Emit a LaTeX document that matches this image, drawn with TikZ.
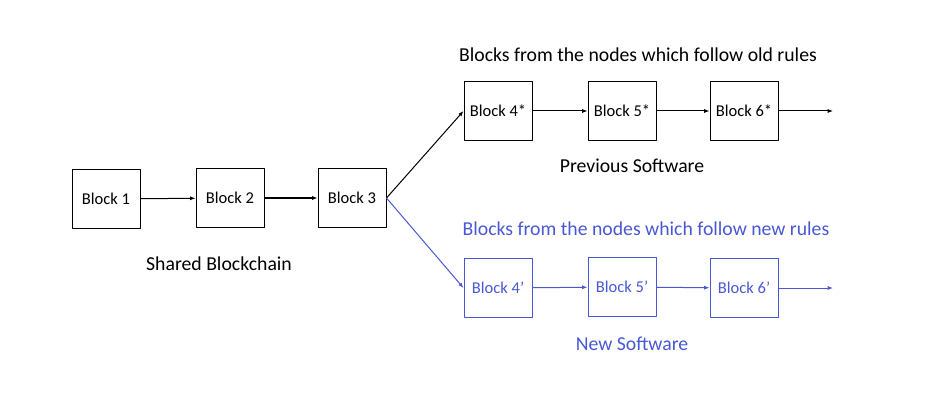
\documentclass[tikz,border=0pt]{standalone}
\usepackage{fontspec}
\setmainfont{Carlito}
\usetikzlibrary{arrows.meta,positioning}
\definecolor{newblue}{RGB}{72,88,212}

\begin{document}
\begin{tikzpicture}[x=0.75pt, y=-0.75pt, >={Latex[length=4pt,width=3pt]}, line cap=round, line join=round,
    blockbox/.style={draw, line width=0.75pt, minimum width=51pt, minimum height=44pt, inner sep=0pt, font=\fontsize{12.4}{14}\selectfont},
    link/.style={->, line width=0.75pt},
    caption/.style={font=\fontsize{14.8}{17}\selectfont}]
    % fix the page to the reference size
    \useasboundingbox (0,0) rectangle (933,410);

    % Shared chain on the left
    \node[blockbox] (b1) at (106,199) {Block 1};
    \node[blockbox] (b2) at (230,198) {Block 2};
    \node[blockbox] (b3) at (352,198) {Block 3};
    \node[caption] (shared) at (219,264) {Shared Blockchain};

    % Upper branch: old rules
    \node[caption] (oldrules) at (638,55) {Blocks from the nodes which follow old rules};
    \node[blockbox] (o4) at (498,111) {Block 4*};
    \node[blockbox] (o5) at (622,111) {Block 5*};
    \node[blockbox] (o6) at (744,111) {Block 6*};
    \coordinate (oend) at (833,111);
    \node[caption] (prev) at (632,166) {Previous Software};

    % Lower branch: new rules, in blue
    \begin{scope}[newblue]
    \node[caption] (newrules) at (646,229) {Blocks from the nodes which follow new rules};
    \node[blockbox] (n4) at (498,288) {Block 4’};
    \node[blockbox] (n5) at (622,287) {Block 5’};
    \node[blockbox] (n6) at (744,288) {Block 6’};
    \coordinate (nend) at (833,288);
    \node[caption] (newsw) at (632,344) {New Software};
    \end{scope}

    % Connectors
    \draw[link] (b1) -- (b2);
    \draw[link] (b2) -- (b3);
    \draw[link] (b3.east) -- (o4.west);
    \draw[link] (o4) -- (o5);
    \draw[link] (o5) -- (o6);
    \draw[link] (o6) -- (oend);

    \draw[link, newblue] (b3.east) -- (n4.west);
    \draw[link, newblue] (n4) -- (n5);
    \draw[link, newblue] (n5) -- (n6);
    \draw[link, newblue] (n6) -- (nend);

\end{tikzpicture}
\end{document}
